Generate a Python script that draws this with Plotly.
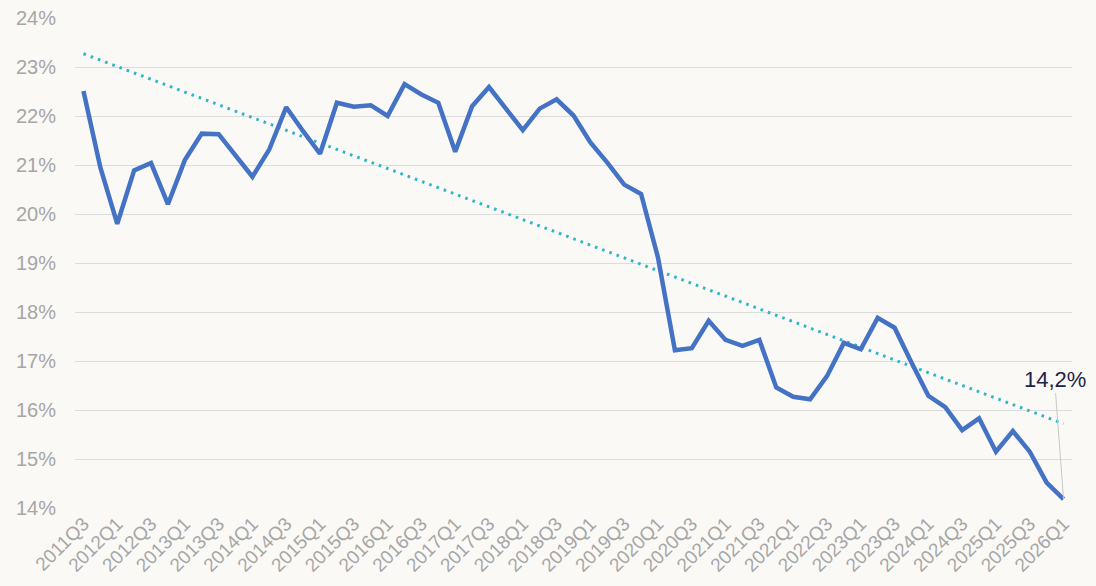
import plotly.graph_objects as go

# Categories: quarters 2011Q3 .. 2026Q1
quarters = [f"{y}Q{q}" for y in range(2011, 2027) for q in range(1, 5)]
categories = quarters[quarters.index("2011Q3"):quarters.index("2026Q1") + 1]

values = [
    22.51, 20.95, 19.80, 20.89, 21.04, 20.20, 21.10, 21.64, 21.63, 21.18,
    20.76, 21.32, 22.18, 21.69, 21.23, 22.27, 22.19, 22.22, 22.00, 22.65,
    22.44, 22.27, 21.27, 22.20, 22.59, 22.15, 21.71, 22.15, 22.34, 22.01,
    21.46, 21.05, 20.60, 20.41, 19.11, 17.22, 17.26, 17.82, 17.43, 17.31,
    17.43, 16.46, 16.27, 16.22, 16.69, 17.37, 17.24, 17.88, 17.68, 16.97,
    16.29, 16.06, 15.59, 15.83, 15.15, 15.57, 15.15, 14.52, 14.18,
]

# Linear trend line endpoints
trend_x = [categories[0], categories[-1]]
trend_y = [23.27, 15.72]

y_ticks = list(range(14, 25))
y_ticktext = [f"{v}%" for v in y_ticks]
x_tickvals = categories[::2]

BG = "#FAF9F6"

fig = go.Figure()
fig.add_trace(go.Scatter(
    x=trend_x, y=trend_y, mode="lines",
    line=dict(color="#2DB6CA", width=3, dash="2.6px,5.1px"),
    hoverinfo="skip", showlegend=False,
))
fig.add_trace(go.Scatter(
    x=categories, y=values, mode="lines",
    line=dict(color="#4472C4", width=4.5),
    showlegend=False,
))

last_label = f"{values[-1]:.1f}%".replace(".", ",")
fig.add_annotation(
    x=categories[-1], y=values[-1], text=last_label,
    showarrow=True, arrowhead=0, arrowwidth=1, arrowcolor="#C8C8C8",
    ax=-9, ay=-120, standoff=0,
    font=dict(size=22, color="#1C2447", family="Liberation Sans, Arial, sans-serif"),
)

fig.update_layout(
    width=1080, height=570,
    margin=dict(l=67, r=16, t=10, b=70),
    paper_bgcolor=BG, plot_bgcolor=BG,
    font=dict(family="Liberation Sans, Arial, sans-serif", color="#A6A6A6"),
    xaxis=dict(
        type="category", categoryorder="array", categoryarray=categories,
        range=[-0.5, len(categories) - 0.5], automargin=False,
        tickmode="array", tickvals=x_tickvals, ticktext=x_tickvals,
        tickangle=-45, tickfont=dict(size=19, color="#A6A6A6"),
        ticklabeloverflow="allow",
        showgrid=False, zeroline=False, showline=False, ticks="",
    ),
    yaxis=dict(
        range=[14, 24], tickmode="array", tickvals=y_ticks, ticktext=y_ticktext,
        tickfont=dict(size=20, color="#A6A6A6"), automargin=False,
        ticklabeloverflow="allow",
        showgrid=True, gridcolor="#DCDCDC", gridwidth=1.3,
        zeroline=False, showline=False, ticks="", ticklabelstandoff=18,
    ),
)

fig.write_html("out.html", post_script=f"document.body.style.background='{BG}';")
